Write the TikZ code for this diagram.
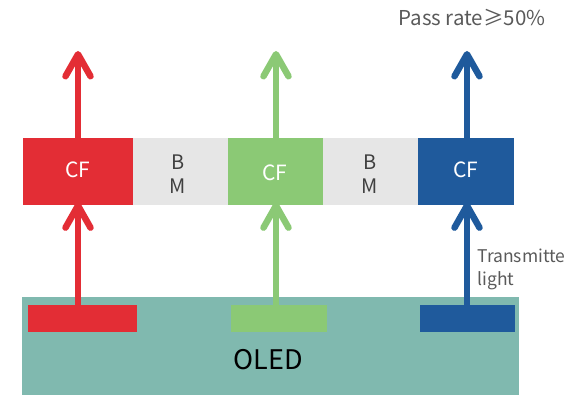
\documentclass[tikz,border=0pt]{standalone}
\usepackage{fontspec}
\setmainfont{Noto Sans CJK SC}
\usetikzlibrary{arrows.meta,positioning}
\definecolor{cfred}{HTML}{E32D35}
\definecolor{cfgreen}{HTML}{8BC975}
\definecolor{cfblue}{HTML}{1F5A9C}
\definecolor{bmgray}{HTML}{E6E6E6}
\definecolor{oled}{HTML}{80B9AF}
\definecolor{txtgray}{HTML}{5A5A5A}
\begin{document}
\begin{tikzpicture}[x=1pt,y=-1pt,
  box/.style={draw=none,inner sep=0pt,anchor=north west},
  cftxt/.style={text=white,font=\fontsize{21}{24}\selectfont},
  bmtxt/.style={text=black!75,align=center,font=\fontsize{20}{24}\selectfont},
  ray/.style={line width=6.5pt,-{Straight Barb[length=22pt,width=25pt,round]}},
  uray/.style={ray,shorten >=-3pt}
]
\useasboundingbox (0,0) rectangle (566,395);
% OLED base
\node[box,fill=oled,minimum width=497pt,minimum height=98pt] (oled) at (22,297) {};
\node[font=\fontsize{27}{30}\selectfont,text=black] (oledtxt) at (268,360) {OLED};
% emitters
\node[box,fill=cfred,minimum width=109pt,minimum height=27pt] (er) at (28,305) {};
\node[box,fill=cfgreen,minimum width=96pt,minimum height=27pt] (eg) at (231,305) {};
\node[box,fill=cfblue,minimum width=95pt,minimum height=27pt] (eb) at (420,305) {};
% CF / BM strip
\node[box,fill=cfred,minimum width=110pt,minimum height=67pt] (cfr) at (23,138) {};
\node[box,fill=bmgray,minimum width=95pt,minimum height=67pt] (bm1) at (133,138) {};
\node[box,fill=cfgreen,minimum width=95pt,minimum height=67pt] (cfg) at (228,138) {};
\node[box,fill=bmgray,minimum width=96pt,minimum height=67pt] (bm2) at (323,138) {};
\node[box,fill=cfblue,minimum width=96pt,minimum height=67pt] (cfb) at (418,138) {};
\node[cftxt] (tr) at (78,170) {CF};
\node[cftxt] (tg) at (275,173) {CF};
\node[cftxt] (tb) at (466,170) {CF};
\node[bmtxt] (tbm1) at (178,174) {B\\M};
\node[bmtxt] (tbm2) at (370,174) {B\\M};
% top targets
\coordinate (topr) at (78,51);
\coordinate (topg) at (276,51);
\coordinate (topb) at (467,51);
% rays
\draw[uray,cfred] (er.north -| topr) -- (cfr.south -| topr);
\draw[uray,cfgreen] (eg.north -| topg) -- (cfg.south -| topg);
\draw[uray,cfblue] (eb.north -| topb) -- (cfb.south -| topb);
\draw[ray,cfred] (cfr.north -| topr) -- (topr);
\draw[ray,cfgreen] (cfg.north -| topg) -- (topg);
\draw[ray,cfblue] (cfb.north -| topb) -- (topb);
% labels
\node[text=txtgray,font=\fontsize{20.5}{24}\selectfont] (pass) at (472,18) {Pass rate≥50\%};
\node[text=txtgray,font=\fontsize{17.5}{23}\selectfont,align=left,anchor=west] (trans) at (474,269) {Transmitte\\light};
\end{tikzpicture}
\end{document}
